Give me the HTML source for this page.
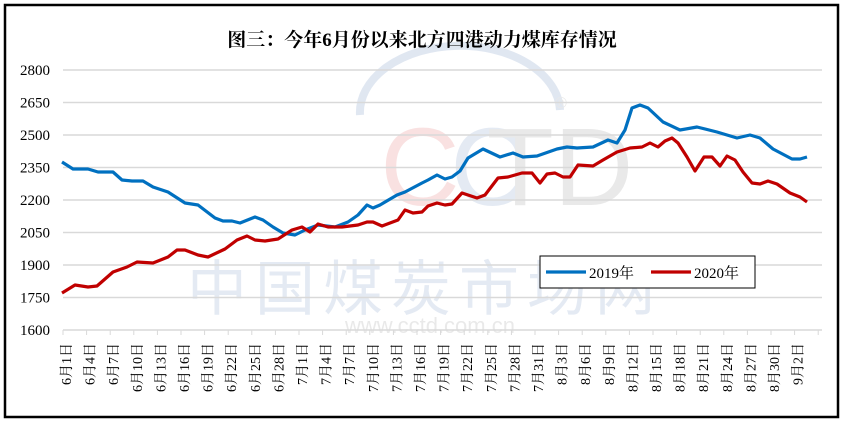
<!DOCTYPE html>
<html><head><meta charset="utf-8"><style>
html,body{margin:0;padding:0;background:#fff;}
svg{display:block;}
</style></head><body>
<svg width="844" height="430" viewBox="0 0 844 430" xmlns="http://www.w3.org/2000/svg">
<rect x="0" y="0" width="844" height="430" fill="#fff"/>
<rect x="5" y="5" width="833" height="412" fill="#fff" stroke="#000" stroke-width="2.5"/>
<!-- watermark -->
<g opacity="0.18">
<path d="M360 115 A90 60 0 0 1 560 110" fill="none" stroke="#5b7fb8" stroke-width="8"/>
<text x="420" y="205" font-family="Liberation Sans, sans-serif" font-size="110" fill="#e06060" text-anchor="middle">C</text>
<text x="490" y="205" font-family="Liberation Sans, sans-serif" font-size="110" fill="#6f8fc0" text-anchor="middle">C</text>
<text x="560" y="205" font-family="Liberation Sans, sans-serif" font-size="110" fill="#888" text-anchor="middle">TD</text>
<text x="425" y="310" font-family="Liberation Sans, 'Noto Sans CJK SC', sans-serif" font-size="60" fill="#6f8fc0" text-anchor="middle" letter-spacing="8">中国煤炭市场网</text>
<text x="430" y="333" font-family="Liberation Sans, sans-serif" font-size="22" fill="#888" text-anchor="middle">www.cctd.com.cn</text>
<text x="561" y="108" font-family="Liberation Sans, sans-serif" font-size="16" fill="#888" text-anchor="middle">®</text>
</g>
<text x="422" y="46" font-family="'Liberation Serif','Noto Serif CJK SC',serif" font-weight="bold" font-size="19" text-anchor="middle">图三：今年6月份以来北方四港动力煤库存情况</text>
<g stroke="#d9d9d9" stroke-width="1.5">
<line x1="63" y1="70" x2="822" y2="70"/>
<line x1="63" y1="102.5" x2="822" y2="102.5"/>
<line x1="63" y1="135" x2="822" y2="135"/>
<line x1="63" y1="167.5" x2="822" y2="167.5"/>
<line x1="63" y1="200" x2="822" y2="200"/>
<line x1="63" y1="232.5" x2="822" y2="232.5"/>
<line x1="63" y1="265" x2="822" y2="265"/>
<line x1="63" y1="297.5" x2="822" y2="297.5"/>
<line x1="63" y1="330" x2="822" y2="330"/>
</g>
<g stroke="#d9d9d9" stroke-width="1">
<line x1="63" y1="330" x2="63" y2="335"/><line x1="86.6" y1="330" x2="86.6" y2="335"/><line x1="110.2" y1="330" x2="110.2" y2="335"/><line x1="133.8" y1="330" x2="133.8" y2="335"/><line x1="157.4" y1="330" x2="157.4" y2="335"/><line x1="181" y1="330" x2="181" y2="335"/><line x1="204.6" y1="330" x2="204.6" y2="335"/><line x1="228.2" y1="330" x2="228.2" y2="335"/><line x1="251.8" y1="330" x2="251.8" y2="335"/><line x1="275.4" y1="330" x2="275.4" y2="335"/><line x1="299" y1="330" x2="299" y2="335"/><line x1="322.6" y1="330" x2="322.6" y2="335"/><line x1="346.2" y1="330" x2="346.2" y2="335"/><line x1="369.8" y1="330" x2="369.8" y2="335"/><line x1="393.4" y1="330" x2="393.4" y2="335"/><line x1="417" y1="330" x2="417" y2="335"/><line x1="440.6" y1="330" x2="440.6" y2="335"/><line x1="464.2" y1="330" x2="464.2" y2="335"/><line x1="487.8" y1="330" x2="487.8" y2="335"/><line x1="511.4" y1="330" x2="511.4" y2="335"/><line x1="535" y1="330" x2="535" y2="335"/><line x1="558.6" y1="330" x2="558.6" y2="335"/><line x1="582.2" y1="330" x2="582.2" y2="335"/><line x1="605.8" y1="330" x2="605.8" y2="335"/><line x1="629.4" y1="330" x2="629.4" y2="335"/><line x1="653" y1="330" x2="653" y2="335"/><line x1="676.6" y1="330" x2="676.6" y2="335"/><line x1="700.2" y1="330" x2="700.2" y2="335"/><line x1="723.8" y1="330" x2="723.8" y2="335"/><line x1="747.4" y1="330" x2="747.4" y2="335"/><line x1="771" y1="330" x2="771" y2="335"/><line x1="794.6" y1="330" x2="794.6" y2="335"/><line x1="818.2" y1="330" x2="818.2" y2="335"/>
</g>
<g font-family="'Liberation Serif',serif" font-size="15" text-anchor="end">
<text x="50" y="75">2800</text><text x="50" y="107.5">2650</text><text x="50" y="140">2500</text><text x="50" y="172.5">2350</text><text x="50" y="205">2200</text><text x="50" y="237.5">2050</text><text x="50" y="270">1900</text><text x="50" y="302.5">1750</text><text x="50" y="335">1600</text>
</g>
<polyline fill="none" stroke="#0070C0" stroke-width="3.2" stroke-linejoin="round" points="62,162 73,169 88,169 98,172 113,172 122,180 132,181 143,181 153,187 168,192 185,203 198,205 215,218 223,221 232,221 240,223 255,217 263,220 273,227 283,233 295,235 305,230 318,225 335,227 348,222 358,215 367,205 373,208 380,205 397,195 405,192 422,183 428,180 437,175 445,179 452,177 460,171 468,158 483,149 500,157 513,153 523,157 537,156 557,149 567,147 577,148 593,147 608,140 617,143 625,130 632,108 640,105 648,108 663,122 680,130 697,127 717,132 737,138 750,135 760,138 773,149 792,159 800,159 807,157"/>
<polyline fill="none" stroke="#C00000" stroke-width="3.2" stroke-linejoin="round" points="62,293 75,285 88,287 97,286 113,272 127,267 137,262 153,263 168,257 177,250 185,250 198,255 208,257 225,249 237,240 247,236 255,240 265,241 278,239 292,230 302,227 310,232 318,224 328,227 342,227 358,225 367,222 373,222 382,226 398,220 405,210 413,213 422,212 428,206 437,203 445,205 452,204 462,193 477,198 485,195 498,178 508,177 522,173 532,173 540,183 547,174 555,173 563,177 570,177 578,165 593,166 603,160 617,152 630,148 642,147 650,143 658,147 665,141 672,138 678,143 687,157 695,171 704,157 712,157 720,166 727,156 735,160 743,172 752,183 760,184 768,181 777,184 790,193 800,197 807,202"/>
<rect x="540" y="256" width="215" height="32" fill="#fff" stroke="#000" stroke-width="1"/>
<line x1="546" y1="272" x2="586" y2="272" stroke="#0070C0" stroke-width="3.2"/>
<text x="589" y="278" font-family="'Liberation Serif','Noto Serif CJK SC',serif" font-size="15">2019年</text>
<line x1="651" y1="272" x2="691" y2="272" stroke="#C00000" stroke-width="3.2"/>
<text x="694" y="278" font-family="'Liberation Serif','Noto Serif CJK SC',serif" font-size="15">2020年</text>
<g font-family="'Liberation Serif','Noto Serif CJK SC',serif" font-size="14" text-anchor="end">
<text transform="translate(71,343) rotate(-90)">6月1日</text>
<text transform="translate(94.6,343) rotate(-90)">6月4日</text>
<text transform="translate(118.2,343) rotate(-90)">6月7日</text>
<text transform="translate(141.8,343) rotate(-90)">6月10日</text>
<text transform="translate(165.4,343) rotate(-90)">6月13日</text>
<text transform="translate(189,343) rotate(-90)">6月16日</text>
<text transform="translate(212.6,343) rotate(-90)">6月19日</text>
<text transform="translate(236.2,343) rotate(-90)">6月22日</text>
<text transform="translate(259.8,343) rotate(-90)">6月25日</text>
<text transform="translate(283.4,343) rotate(-90)">6月28日</text>
<text transform="translate(307,343) rotate(-90)">7月1日</text>
<text transform="translate(330.6,343) rotate(-90)">7月4日</text>
<text transform="translate(354.2,343) rotate(-90)">7月7日</text>
<text transform="translate(377.8,343) rotate(-90)">7月10日</text>
<text transform="translate(401.4,343) rotate(-90)">7月13日</text>
<text transform="translate(425,343) rotate(-90)">7月16日</text>
<text transform="translate(448.6,343) rotate(-90)">7月19日</text>
<text transform="translate(472.2,343) rotate(-90)">7月22日</text>
<text transform="translate(495.8,343) rotate(-90)">7月25日</text>
<text transform="translate(519.4,343) rotate(-90)">7月28日</text>
<text transform="translate(543,343) rotate(-90)">7月31日</text>
<text transform="translate(566.6,343) rotate(-90)">8月3日</text>
<text transform="translate(590.2,343) rotate(-90)">8月6日</text>
<text transform="translate(613.8,343) rotate(-90)">8月9日</text>
<text transform="translate(637.4,343) rotate(-90)">8月12日</text>
<text transform="translate(661,343) rotate(-90)">8月15日</text>
<text transform="translate(684.6,343) rotate(-90)">8月18日</text>
<text transform="translate(708.2,343) rotate(-90)">8月21日</text>
<text transform="translate(731.8,343) rotate(-90)">8月24日</text>
<text transform="translate(755.4,343) rotate(-90)">8月27日</text>
<text transform="translate(779,343) rotate(-90)">8月30日</text>
<text transform="translate(802.6,343) rotate(-90)">9月2日</text>
</g>
</svg>
</body></html>
